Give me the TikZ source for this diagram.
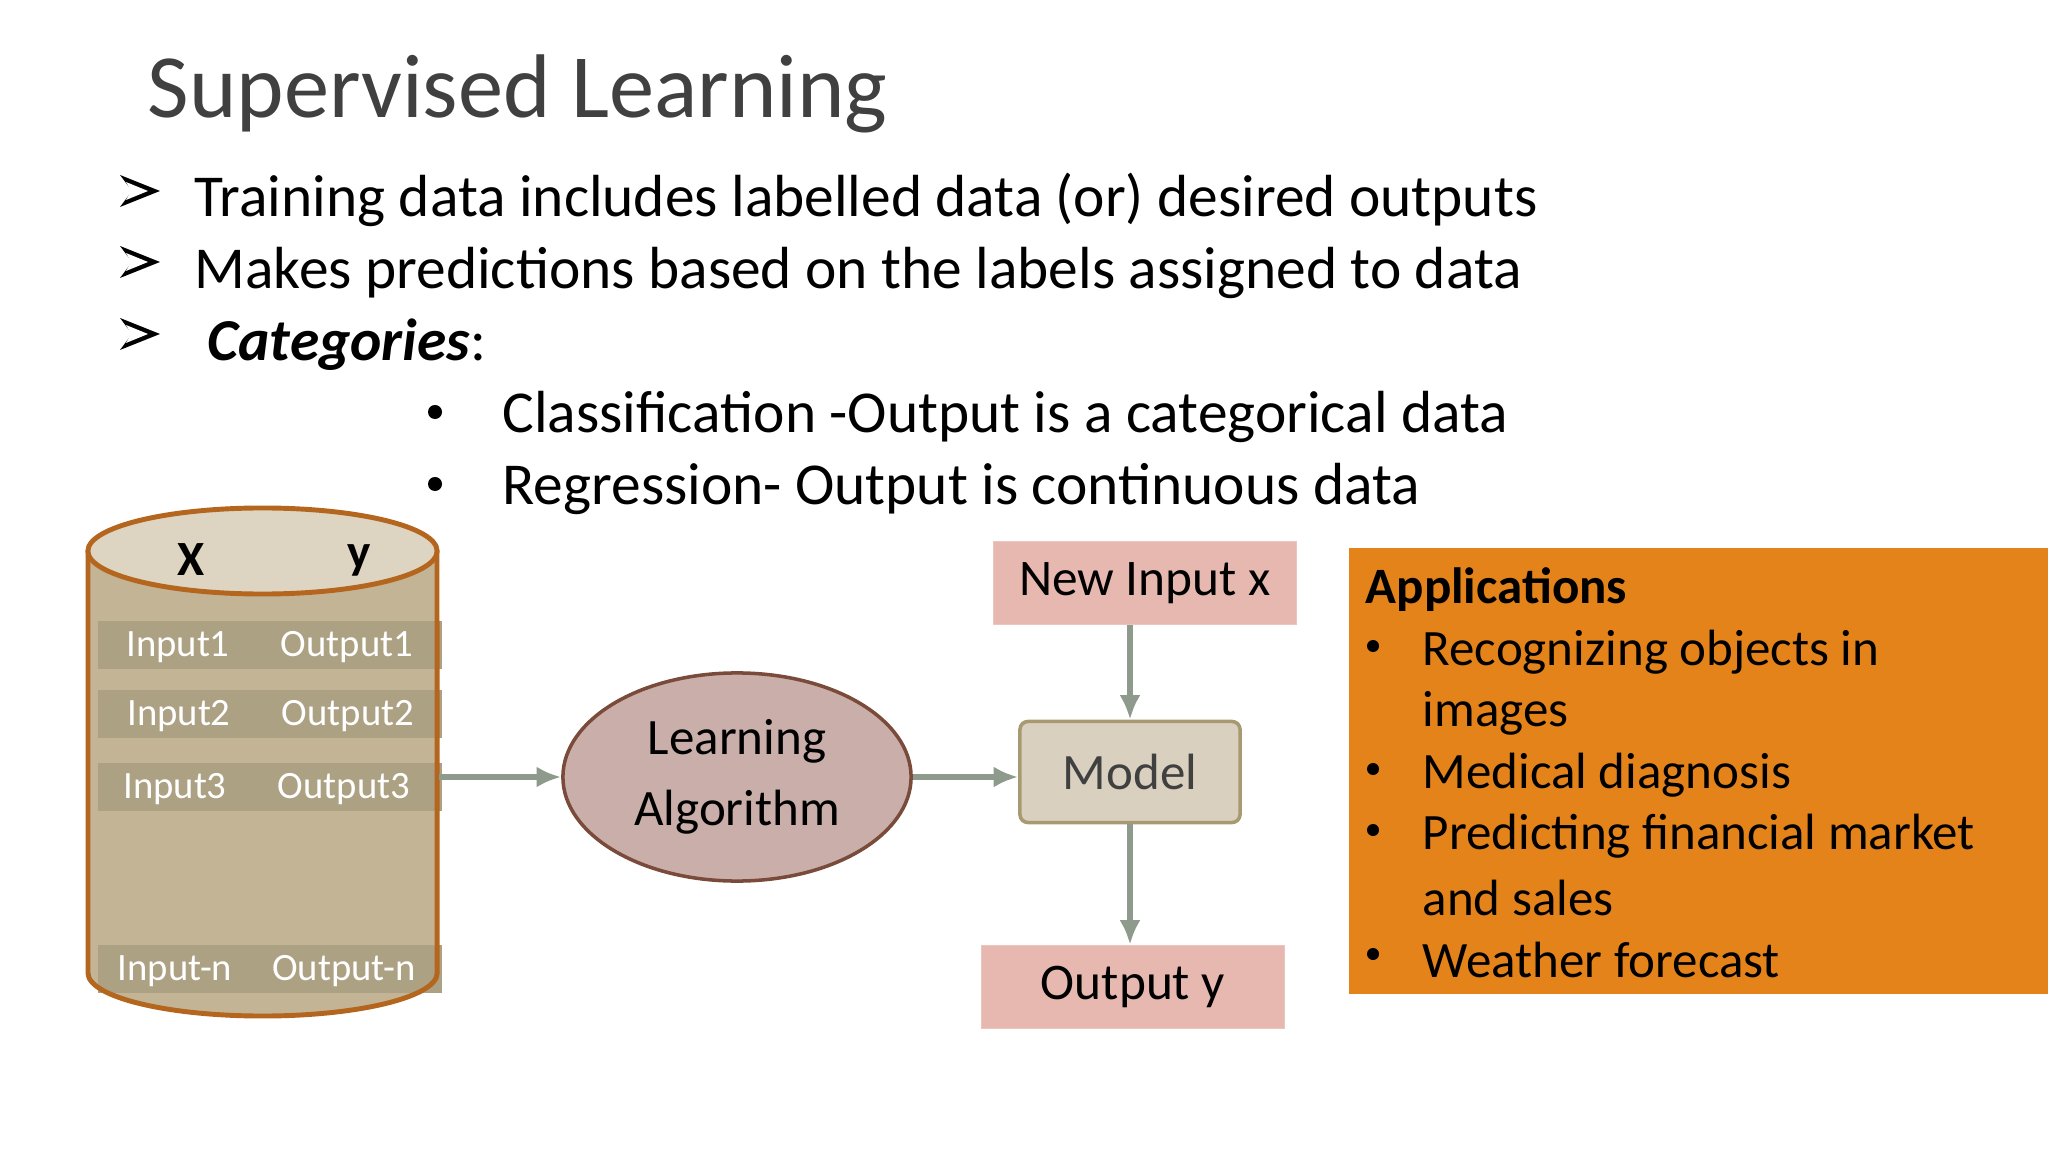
\documentclass[tikz,border=0pt]{standalone}
\usepackage{fontspec}
\setmainfont{Carlito}
\usetikzlibrary{arrows.meta, calc, shapes.geometric}
\definecolor{titlegray}{HTML}{404040}
\definecolor{cylfill}{HTML}{C4B496}
\definecolor{cyltop}{HTML}{DED4C2}
\definecolor{cylband}{HTML}{ADA184}
\definecolor{cylline}{HTML}{B5661E}
\definecolor{algofill}{HTML}{C9AEAA}
\definecolor{algoline}{HTML}{7A4A3A}
\definecolor{modelfill}{HTML}{D9D0BF}
\definecolor{modelline}{HTML}{A89A70}
\definecolor{pinkfill}{HTML}{E6B8B0}
\definecolor{appfill}{HTML}{E5831B}
\definecolor{arrowgray}{HTML}{8E9B8C}
\tikzset{
    flow/.style={draw=arrowgray, line width=1.6pt, -{Latex[length=7pt,width=6pt]}},
    bodytext/.style={anchor=west, inner sep=0pt, font=\fontsize{16.9}{20}\selectfont},
    celltext/.style={text=white, inner sep=0pt, font=\fontsize{11}{13}\selectfont},
    apptext/.style={anchor=west, inner sep=0pt, font=\fontsize{14.5}{17}\selectfont},
    pinkbox/.style={fill=pinkfill, draw=pinkfill!80!white, minimum width=3.03cm, minimum height=0.83cm, font=\fontsize{14.6}{17}\selectfont},
}
\newcommand\arrowbullet[1]{\fill[black] ($#1+(-20,-16)$) -- ($#1+(20,0)$) -- ($#1+(-20,16)$) -- ($#1+(-8,0)$) -- cycle;
    \fill[white] ($#1+(-14,-9)$) -- ($#1+(8,0)$) -- ($#1+(-14,9)$) -- ($#1+(-9,0)$) -- cycle;}
\begin{document}
\begin{tikzpicture}[x=0.01cm, y=-0.01cm]
    \newcommand\cylL{88}
    \newcommand\cylR{437}
    \newcommand\cylX{262.5}
    \useasboundingbox (0,0) rectangle (2048,1152);
    \fill[white] (0,0) rectangle (2048,1152);

    % title and bullet text
    \node[anchor=west, inner sep=0pt, text=titlegray, font=\fontsize{25.7}{30}\selectfont] (title) at (147, 94){Supervised Learning};
    \arrowbullet{(140,191)}
    \arrowbullet{(140,262)}
    \arrowbullet{(140,334)}
    \node[bodytext] (b1) at (194, 200){Training data includes labelled data (or) desired outputs};
    \node[bodytext] (b2) at (194, 273){Makes predictions based on the labels assigned to data};
    \node[bodytext] (b3) at (207, 345){\textbf{\textit{Categories}}:};
    \fill (435,412) circle (0.07cm);
    \fill (435,484) circle (0.07cm);
    \node[bodytext] (c1) at (502, 417){Classification -Output is a categorical data};
    \node[bodytext] (c2) at (502, 489){Regression- Output is continuous data};

    % cylinder
    \fill[cylfill] (\cylL,551) -- (\cylL,973) arc (180:360:1.745cm and 0.43cm) -- (\cylR,551) -- cycle;
    \foreach \y in {645,714,787,969}
        \fill[cylband] (98,\y-24) rectangle (442,\y+24);
    \draw[cylline, line width=1.4pt] (\cylL,551) -- (\cylL,973) arc (180:360:1.745cm and 0.43cm) -- (\cylR,551);
    \draw[cylline, line width=1.4pt, fill=cyltop] (\cylX,551) ellipse (1.745cm and 0.43cm);
    \node[font=\bfseries\fontsize{14}{16}\selectfont] (colX) at (191,560){X};
    \node[font=\bfseries\fontsize{14}{16}\selectfont] (colY) at (359,560){y};
    \node[celltext] (in1) at (178,647){Input1};
    \node[celltext] (out1) at (347,647){Output1};
    \node[celltext] (in2) at (179,716){Input2};
    \node[celltext] (out2) at (348,716){Output2};
    \node[celltext] (in3) at (175,789){Input3};
    \node[celltext] (out3) at (344,789){Output3};
    \node[celltext] (inN) at (175,971){Input-n};
    \node[celltext] (outN) at (344,971){Output-n};
    \coordinate (cylout) at (439,777);

    % flow
    \node[ellipse, draw=algoline, fill=algofill, line width=1pt, minimum width=3.48cm, minimum height=2.08cm, inner sep=0pt, align=center, font=\fontsize{14.5}{20}\selectfont] (algo) at (737,777){Learning\\Algorithm};
    \node[draw=modelline, fill=modelfill, line width=1pt, rounded corners=0.08cm, minimum width=2.2cm, minimum height=1.01cm, text=titlegray, font=\fontsize{14.5}{17}\selectfont] (model) at (1130,772){Model};
    \node[pinkbox] (newin) at (1145,583){New Input x};
    \node[pinkbox] (outy) at (1133,987){Output y};
    \draw[flow] (cylout) -- (algo.west);
    \draw[flow] (algo.east) -- (algo.east -| model.west);
    \draw[flow] (model.north |- newin.south) -- (model.north);
    \draw[flow] (model.south) -- (model.south |- outy.north);

    % applications
    \fill[appfill] (1349,548) rectangle (2048,994);
    \node[apptext, font=\bfseries\fontsize{14.5}{17}\selectfont] (apphead) at (1365,590){Applications};
    \foreach \y in {652,775,836,960}
        \fill (1373,\y-6) circle (0.06cm);
    \node[apptext] (a1) at (1422,652){Recognizing objects in};
    \node[apptext] (a1b) at (1422,713){images};
    \node[apptext] (a2) at (1422,775){Medical diagnosis};
    \node[apptext] (a3) at (1422,836){Predicting financial market};
    \node[apptext] (a3b) at (1422,898){and sales};
    \node[apptext] (a4) at (1422,960){Weather forecast};
\end{tikzpicture}
\end{document}
